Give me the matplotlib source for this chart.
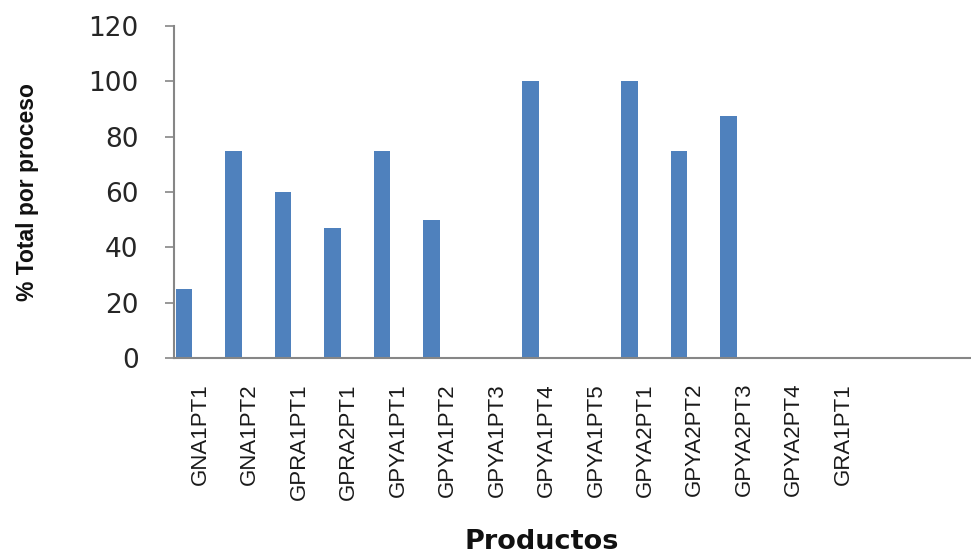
import numpy as np
import matplotlib
matplotlib.use("Agg")
import matplotlib.pyplot as plt

# product codes and their share of the total per process (%)
productos = ["GNA1PT1", "GNA1PT2", "GPRA1PT1", "GPRA2PT1", "GPYA1PT1",
             "GPYA1PT2", "GPYA1PT3", "GPYA1PT4", "GPYA1PT5", "GPYA2PT1",
             "GPYA2PT2", "GPYA2PT3", "GPYA2PT4", "GRA1PT1"]
porcentaje = [25, 75, 60, 47, 75, 50, 0, 100, 0, 100, 75, 87.5, 0, 0]
y_ticks = [0, 20, 40, 60, 80, 100, 120]

W, H = 971, 555
fig = plt.figure(figsize=(W / 100, H / 100), dpi=100)
ax = fig.add_axes([174 / W, 1 - 358 / H, (W - 174) / W, (358 - 26) / H])

x = np.arange(len(productos))
ax.bar(x - 0.32, porcentaje, width=0.333, color="#4F81BD", zorder=2)

ax.set_xlim(-0.525, 15.58)
ax.set_ylim(0, 120)
ax.set_yticks(y_ticks)
ax.set_yticklabels([str(v) for v in y_ticks], family="DejaVu Sans",
                   fontsize=19, color="#262626")
ax.set_xticks(x)
ax.set_xticklabels(productos, rotation=90, fontsize=16,
                   family="Liberation Sans", color="#1a1a1a")

ax.tick_params(axis="y", length=6.5, width=1.2, color="#868686", pad=19)
ax.tick_params(axis="x", length=0, pad=18)

for side in ("top", "right"):
    ax.spines[side].set_visible(False)
for side in ("left", "bottom"):
    ax.spines[side].set_color("#868686")
    ax.spines[side].set_linewidth(1.5)

fig.text(27.5 / W, 1 - 192 / H, "% Total por proceso", rotation=90,
         ha="center", va="center", fontsize=16.5, fontweight="bold",
         family="Liberation Sans", color="#111111")
fig.text(542 / W, 1 - 549 / H, "Productos", ha="center", va="baseline",
         fontsize=19.5, fontweight="bold", family="DejaVu Sans", color="#111111")

fig.savefig("out.png", dpi=100)
